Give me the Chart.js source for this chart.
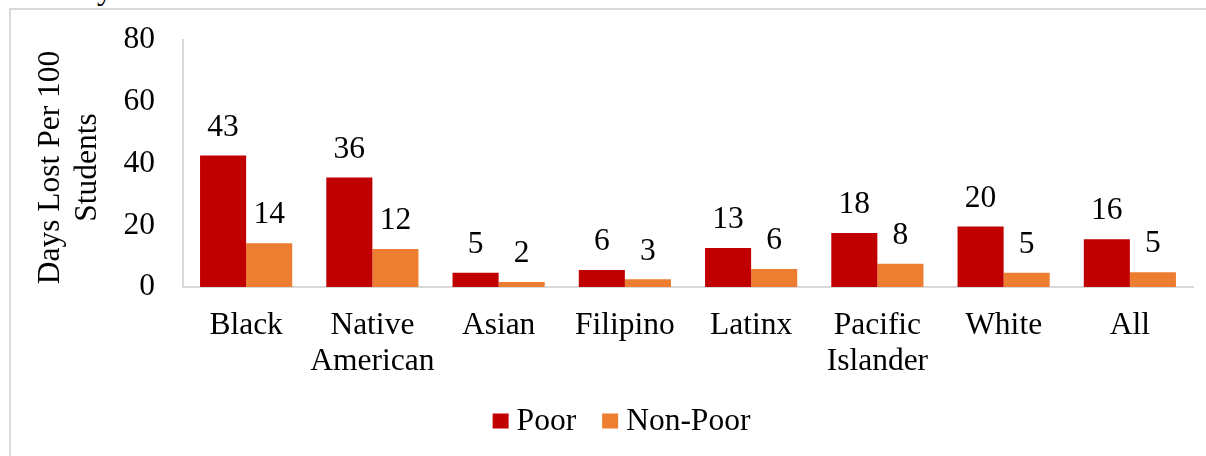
<!DOCTYPE html>
<html>
<head>
<meta charset="utf-8">
<script src="https://cdn.jsdelivr.net/npm/chart.js@4/dist/chart.umd.min.js"></script>
<style>
  html, body { margin: 0; padding: 0; background: #ffffff; }
  #wrap { position: relative; width: 1206px; height: 456px; overflow: hidden; }
  #frame { position: absolute; left: 9px; top: 8px; width: 1300px; height: 500px;
           border-left: 2px solid #d9d9d9; border-top: 2px solid #d9d9d9; }
  #cut { position: absolute; left: 97px; top: -27px; font: 31.5px "Liberation Serif", "Times New Roman", serif;
         line-height: 31.5px; color: #000; white-space: nowrap; }
  canvas { position: absolute; left: 0; top: 0; }
</style>
</head>
<body>
<div id="wrap">
  <div id="frame"></div>
  <div id="cut">y</div>
  <canvas id="c" width="1206" height="456"></canvas>
</div>
<script>
const categories = ["Black", ["Native", "American"], "Asian", "Filipino", "Latinx", ["Pacific", "Islander"], "White", "All"];
const seriesNames = ["Poor", "Non-Poor"];
const seriesColors = ["#C00000", "#ED7D31"];
const poorValues = [42.6, 35.5, 4.6, 5.5, 12.6, 17.5, 19.6, 15.5];
const nonPoorValues = [14.2, 12.3, 1.6, 2.5, 5.8, 7.5, 4.6, 4.8];
const yTitle = ["Days Lost Per 100 ", "Students "];

const FONT = '"Liberation Serif", "Times New Roman", serif';
const FS = 31.5;

const valueLabels = {
  id: 'valueLabels',
  afterDatasetsDraw(chart) {
    const ctx = chart.ctx;
    ctx.save();
    ctx.fillStyle = '#000';
    ctx.font = FS + 'px ' + FONT;
    ctx.textAlign = 'center';
    ctx.textBaseline = 'middle';
    chart.data.datasets.forEach((ds, di) => {
      const meta = chart.getDatasetMeta(di);
      meta.data.forEach((el, i) => {
        ctx.fillText(String(Math.round(ds.data[i])), el.x, el.y - 28);
      });
    });
    ctx.restore();
  }
};

const bottomLegend = {
  id: 'bottomLegend',
  afterDraw(chart) {
    const ctx = chart.ctx;
    ctx.save();
    ctx.font = FS + 'px ' + FONT;
    ctx.textBaseline = 'middle';
    ctx.textAlign = 'left';
    const box = 16, gap = 8, spacing = 26, cy = 421;
    const items = chart.data.datasets.map(d => ({ text: d.label, color: d.backgroundColor, w: ctx.measureText(d.label).width }));
    let total = 0;
    items.forEach((it, i) => { total += box + gap + it.w + (i ? spacing : 0); });
    let x = 621.5 - total / 2;
    items.forEach((it) => {
      ctx.fillStyle = it.color;
      ctx.fillRect(x, cy - 7.5, box, 15);
      ctx.fillStyle = '#000';
      ctx.fillText(it.text, x + box + gap, cy + 1);
      x += box + gap + it.w + spacing;
    });
    ctx.restore();
  }
};

new Chart(document.getElementById('c'), {
  type: 'bar',
  data: {
    labels: categories,
    datasets: [
      { label: seriesNames[0], data: poorValues, backgroundColor: seriesColors[0] },
      { label: seriesNames[1], data: nonPoorValues, backgroundColor: seriesColors[1] }
    ]
  },
  options: {
    responsive: false,
    animation: false,
    devicePixelRatio: 1,
    layout: { padding: { left: 0, top: 40, right: 13, bottom: 0 } },
    datasets: { bar: { categoryPercentage: 0.73, barPercentage: 1.0 } },
    scales: {
      x: {
        grid: { display: false, drawTicks: false },
        border: { display: true, color: '#d9d9d9', width: 2 },
        ticks: { color: '#000', font: { family: FONT, size: FS, lineHeight: 1.13 }, padding: 21, maxRotation: 0, autoSkip: false },
        afterFit: (s) => { s.height = 169; s.paddingLeft = 0; s.paddingRight = 0; }
      },
      y: {
        min: 0, max: 80,
        grid: { display: false, drawTicks: false },
        border: { display: true, color: '#d9d9d9', width: 2 },
        ticks: { stepSize: 20, color: '#000', font: { family: FONT, size: FS }, padding: 28 },
        title: { display: true, text: yTitle, color: '#000', font: { family: FONT, size: FS, lineHeight: 1.15 }, padding: { top: 33, bottom: 0 } },
        afterFit: (s) => { s.width = 183; s.paddingTop = 0; s.paddingBottom = 0; }
      }
    },
    plugins: {
      legend: { display: false },
      tooltip: { enabled: false }
    }
  },
  plugins: [valueLabels, bottomLegend]
});
</script>
</body>
</html>
